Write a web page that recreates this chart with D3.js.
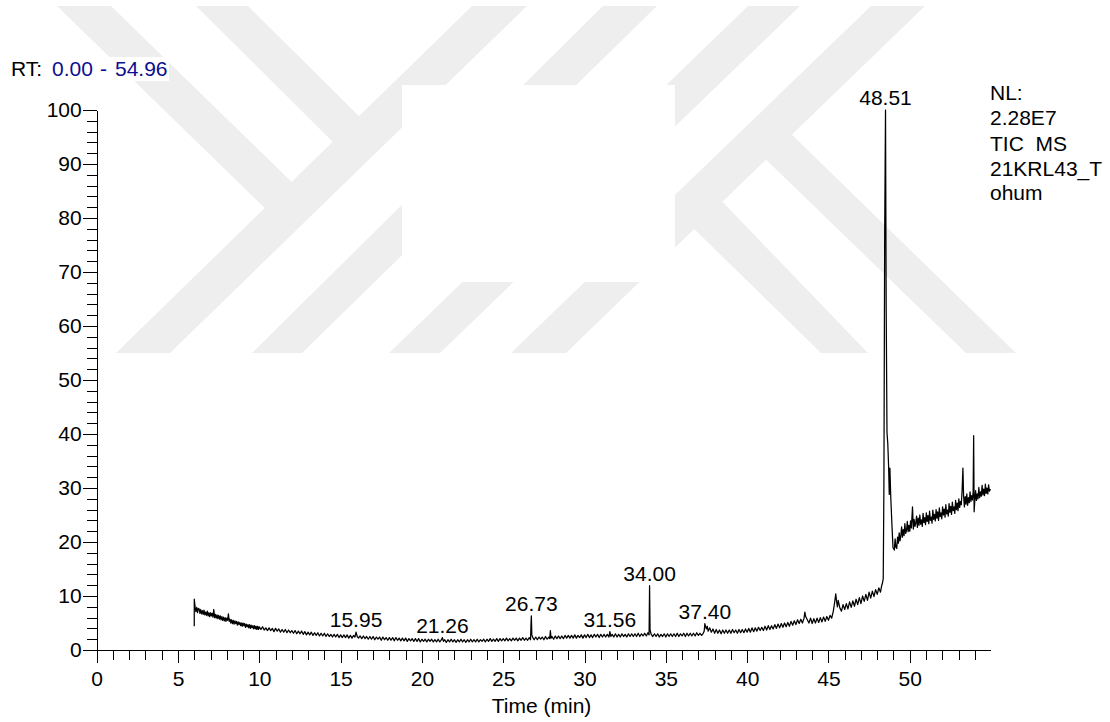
<!DOCTYPE html>
<html>
<head>
<meta charset="utf-8">
<script src="https://cdn.jsdelivr.net/npm/d3@7"></script>
<style>
  html, body { margin: 0; padding: 0; background: #ffffff; }
  svg { display: block; font-family: "Liberation Sans", Arial, sans-serif; }
</style>
</head>
<body>
<svg id="chart" width="1110" height="722"></svg>
<script>
// ---------------- DATA ----------------
// Total ion chromatogram: [retention time (min), relative abundance (%)]
const trace = [
  [6.00,4.4],[6.00,9.4],[6.05,8.0],[6.1,7.1],[6.15,7.9],[6.2,6.9],[6.25,7.7],[6.3,7.6],[6.35,6.8],[6.4,7.5],
  [6.45,6.7],[6.5,7.3],[6.55,6.6],[6.6,7.4],[6.65,6.5],[6.7,7.0],[6.75,6.4],[6.8,7.2],[6.85,6.3],[6.9,6.9],
  [6.95,6.2],[7.0,6.9],[7.05,6.3],[7.1,6.8],[7.15,6.1],[7.2,7.5],[7.25,6.0],[7.3,6.6],[7.35,5.9],[7.4,6.5],
  [7.45,5.8],[7.5,6.4],[7.55,5.7],[7.6,6.3],[7.65,5.6],[7.7,6.2],[7.75,5.5],[7.8,6.1],[7.85,5.4],[7.9,6.0],
  [7.95,5.3],[8.0,5.9],[8.05,5.5],[8.1,6.7],[8.15,5.3],[8.2,5.7],[8.25,5.0],[8.3,5.6],[8.35,4.9],[8.4,5.5],
  [8.45,4.8],[8.5,5.4],[8.55,4.9],[8.6,5.3],[8.65,4.6],[8.7,5.2],[8.75,4.7],[8.8,5.1],[8.85,4.5],[8.9,5.0],
  [8.95,4.4],[9.0,5.0],[9.05,4.5],[9.1,4.9],[9.15,4.2],[9.2,4.8],[9.25,4.3],[9.3,4.7],[9.35,4.1],[9.4,4.7],
  [9.45,4.0],[9.5,4.6],[9.55,4.1],[9.6,4.5],[9.65,3.9],[9.7,4.5],[9.75,3.9],[9.8,4.4],[9.85,3.8],[9.9,4.4],
  [9.95,3.8],[10.0,4.3],[10.1,3.8],[10.2,4.3],[10.3,3.7],[10.4,4.1],[10.5,3.6],[10.6,4.1],[10.7,3.6],[10.8,4.0],
  [10.9,3.4],[11.0,4.0],[11.1,3.5],[11.2,3.9],[11.3,3.3],[11.4,3.8],[11.5,3.3],[11.6,3.8],[11.7,3.2],[11.8,3.7],
  [11.9,3.2],[12.0,3.6],[12.1,3.1],[12.2,3.6],[12.3,3.0],[12.4,3.5],[12.5,3.0],[12.6,3.5],[12.7,2.9],[12.8,3.4],
  [12.9,2.8],[13.0,3.3],[13.1,2.8],[13.2,3.3],[13.3,2.7],[13.4,3.2],[13.5,2.7],[13.6,3.2],[13.7,2.6],[13.8,3.1],
  [13.9,2.6],[14.0,3.1],[14.1,2.5],[14.2,3.0],[14.3,2.5],[14.4,2.9],[14.5,2.4],[14.6,2.9],[14.7,2.4],[14.8,2.9],
  [14.9,2.3],[15.0,2.8],[15.1,2.3],[15.2,2.8],[15.3,2.3],[15.4,2.8],[15.5,2.2],[15.6,2.7],[15.7,2.2],[15.8,2.7],
  [15.88,2.4],[15.95,3.3],[16.02,2.5],[16.1,2.2],[16.2,2.6],[16.3,2.1],[16.4,2.6],[16.5,2.1],[16.6,2.5],[16.7,2.0],
  [16.8,2.5],[16.9,2.0],[17.0,2.5],[17.1,1.9],[17.2,2.4],[17.3,2.0],[17.4,2.4],[17.5,1.8],[17.6,2.4],[17.7,1.9],
  [17.8,2.3],[17.9,1.8],[18.0,2.3],[18.1,1.8],[18.2,2.3],[18.3,1.7],[18.4,2.3],[18.5,1.8],[18.6,2.2],[18.7,1.7],
  [18.8,2.2],[18.9,1.7],[19.0,2.2],[19.1,1.6],[19.2,2.1],[19.3,1.7],[19.4,2.1],[19.5,1.6],[19.6,2.1],[19.7,1.6],
  [19.8,2.1],[19.9,1.5],[20.0,2.0],[20.1,1.6],[20.2,2.0],[20.3,1.5],[20.4,2.0],[20.5,1.6],[20.6,2.0],[20.7,1.5],
  [20.8,1.9],[20.9,1.5],[21.0,2.0],[21.1,1.5],[21.2,1.9],[21.26,2.3],[21.32,1.6],[21.4,1.9],[21.5,1.4],[21.6,1.9],
  [21.7,1.5],[21.8,2.0],[21.9,1.5],[22.0,1.9],[22.1,1.4],[22.2,1.9],[22.3,1.5],[22.4,2.0],[22.5,1.5],[22.6,1.9],
  [22.7,1.4],[22.8,1.9],[22.9,1.5],[23.0,2.0],[23.1,1.5],[23.2,1.9],[23.3,1.5],[23.4,2.0],[23.5,1.5],[23.6,1.9],
  [23.7,1.6],[23.8,2.0],[23.9,1.5],[24.0,2.0],[24.1,1.6],[24.2,2.1],[24.3,1.6],[24.4,2.0],[24.5,1.6],[24.6,2.1],
  [24.7,1.6],[24.8,2.1],[24.9,1.7],[25.0,2.1],[25.1,1.7],[25.2,2.2],[25.3,1.7],[25.4,2.1],[25.5,1.7],[25.6,2.2],
  [25.7,1.8],[25.8,2.2],[25.9,1.7],[26.0,2.2],[26.1,1.8],[26.2,2.3],[26.3,1.8],[26.4,2.2],[26.5,1.8],[26.6,2.3],
  [26.68,1.9],[26.71,5.0],[26.73,6.3],[26.76,2.8],[26.82,2.3],[26.9,1.9],[27.0,2.4],[27.1,1.9],[27.2,2.4],[27.3,2.0],
  [27.4,2.4],[27.5,1.9],[27.6,2.5],[27.7,2.0],[27.8,2.4],[27.86,2.1],[27.9,3.6],[27.94,2.2],[28.0,2.5],[28.1,2.0],
  [28.2,2.6],[28.3,2.1],[28.4,2.6],[28.5,2.1],[28.6,2.6],[28.7,2.1],[28.8,2.7],[28.9,2.2],[29.0,2.7],[29.1,2.2],
  [29.2,2.7],[29.3,2.2],[29.4,2.8],[29.5,2.2],[29.6,2.7],[29.7,2.3],[29.8,2.8],[29.9,2.2],[30.0,2.8],[30.1,2.3],
  [30.2,2.9],[30.3,2.3],[30.4,2.8],[30.5,2.3],[30.6,2.9],[30.7,2.4],[30.8,2.9],[30.9,2.3],[31.0,2.9],[31.1,2.4],
  [31.2,2.9],[31.3,2.4],[31.4,2.9],[31.5,2.4],[31.56,3.4],[31.62,2.5],[31.7,2.9],[31.8,2.4],[31.9,3.0],[32.0,2.4],
  [32.1,2.9],[32.2,2.4],[32.3,3.0],[32.4,2.5],[32.5,2.9],[32.6,2.4],[32.7,3.0],[32.8,2.5],[32.9,3.0],[33.0,2.5],
  [33.1,3.0],[33.2,2.5],[33.3,3.1],[33.4,2.5],[33.5,3.0],[33.6,2.6],[33.7,3.1],[33.8,2.6],[33.9,3.2],[33.97,2.8],
  [34.0,11.9],[34.03,3.7],[34.1,2.9],[34.2,2.5],[34.3,3.0],[34.4,2.5],[34.5,3.0],[34.6,2.4],[34.7,2.9],[34.8,2.5],
  [34.9,3.0],[35.0,2.4],[35.1,3.0],[35.2,2.5],[35.3,3.0],[35.4,2.5],[35.5,3.0],[35.6,2.5],[35.7,3.1],[35.8,2.5],
  [35.9,3.0],[36.0,2.6],[36.1,3.1],[36.2,2.5],[36.3,3.1],[36.4,2.6],[36.5,3.1],[36.6,2.6],[36.7,3.1],[36.8,2.6],
  [36.9,3.2],[37.0,2.7],[37.1,3.1],[37.2,2.7],[37.3,3.1],[37.36,3.5],[37.4,4.9],[37.45,4.3],[37.5,3.9],[37.55,4.4],
  [37.6,3.5],[37.7,4.1],[37.8,3.3],[37.9,3.9],[38.0,3.1],[38.1,3.8],[38.2,3.1],[38.3,3.7],[38.4,3.0],[38.5,3.7],
  [38.6,3.1],[38.7,3.7],[38.8,3.1],[38.9,3.7],[39.0,3.1],[39.1,3.8],[39.2,3.2],[39.3,3.7],[39.4,3.1],[39.5,3.8],
  [39.6,3.2],[39.7,3.8],[39.8,3.2],[39.9,3.9],[40.0,3.3],[40.1,4.0],[40.2,3.3],[40.3,4.1],[40.4,3.4],[40.5,4.1],
  [40.6,3.5],[40.7,4.2],[40.8,3.6],[40.9,4.2],[41.0,3.6],[41.1,4.4],[41.2,3.7],[41.3,4.5],[41.4,3.8],[41.5,4.5],
  [41.6,3.9],[41.7,4.7],[41.8,4.0],[41.9,4.8],[42.0,4.1],[42.1,4.9],[42.2,4.2],[42.3,5.0],[42.4,4.3],[42.5,5.1],
  [42.6,4.4],[42.7,5.3],[42.8,4.6],[42.9,5.4],[43.0,4.7],[43.1,5.6],[43.2,4.9],[43.3,5.7],[43.4,5.0],[43.5,5.9],
  [43.55,7.0],[43.6,6.2],[43.7,5.6],[43.8,5.0],[43.9,5.9],[44.0,4.9],[44.1,5.8],[44.2,5.0],[44.3,5.9],[44.4,5.1],
  [44.5,6.0],[44.6,5.2],[44.7,6.1],[44.8,5.3],[44.9,6.2],[45.0,5.5],[45.1,6.4],[45.2,5.9],[45.3,7.2],[45.38,8.8],
  [45.45,10.4],[45.5,9.0],[45.55,8.0],[45.6,9.2],[45.7,7.8],[45.8,7.2],[45.9,8.4],[46.0,7.5],[46.1,8.6],[46.2,7.6],
  [46.3,8.9],[46.4,7.9],[46.5,9.1],[46.6,8.1],[46.7,9.4],[46.8,8.4],[46.9,9.7],[47.0,8.6],[47.1,10.0],[47.2,9.0],
  [47.3,10.3],[47.4,9.2],[47.5,10.7],[47.6,9.6],[47.7,10.9],[47.8,9.9],[47.9,11.2],[48.0,10.3],[48.1,11.5],[48.2,10.7],
  [48.28,12.0],[48.33,12.5],[48.37,13.2],[48.41,30],[48.46,78],[48.51,100],[48.55,64],[48.6,40.3],[48.65,38.2],[48.7,34.0],
  [48.74,28.8],[48.78,33.7],[48.83,28.5],[48.9,23.5],[48.97,19.0],[49.05,18.5],[49.1,20.6],[49.15,19.0],[49.2,18.8],[49.25,20.9],
  [49.3,19.8],[49.35,21.7],[49.4,20.2],[49.45,21.1],[49.5,22.8],[49.55,20.9],[49.6,22.3],[49.65,21.2],[49.7,23.4],[49.75,21.6],
  [49.8,22.1],[49.85,23.8],[49.9,21.9],[49.95,23.1],[50.0,22.0],[50.05,23.9],[50.1,22.6],[50.17,26.5],[50.22,22.4],[50.27,24.2],
  [50.32,22.9],[50.37,23.5],[50.42,24.8],[50.47,22.7],[50.52,24.4],[50.57,23.1],[50.62,25.0],[50.67,23.3],[50.72,24.1],[50.77,22.9],
  [50.82,25.3],[50.87,23.6],[50.92,24.5],[50.97,23.2],[51.02,25.4],[51.07,23.8],[51.12,24.9],[51.17,23.4],[51.22,25.7],[51.27,24.0],
  [51.32,24.6],[51.37,23.5],[51.42,25.9],[51.47,24.2],[51.52,25.1],[51.57,23.9],[51.62,26.0],[51.67,24.4],[51.72,25.6],[51.77,24.0],
  [51.82,26.3],[51.87,24.7],[51.92,25.4],[51.97,24.3],[52.02,26.5],[52.07,25.0],[52.12,26.1],[52.17,24.6],[52.22,26.9],[52.27,25.2],
  [52.32,25.9],[52.37,24.8],[52.42,27.1],[52.47,25.5],[52.52,26.6],[52.57,25.1],[52.62,27.4],[52.67,25.8],[52.72,26.5],[52.77,25.3],
  [52.82,27.7],[52.87,26.0],[52.92,27.2],[52.97,25.8],[53.02,28.0],[53.07,26.4],[53.12,27.5],[53.17,26.9],[53.22,29.6],[53.27,33.7],
  [53.31,28.6],[53.36,26.5],[53.41,28.4],[53.46,27.0],[53.51,28.9],[53.56,26.8],[53.61,28.2],[53.66,27.3],[53.71,29.3],[53.76,27.5],
  [53.81,28.6],[53.86,27.8],[53.9,29.4],[53.93,39.7],[53.96,25.6],[54.0,27.6],[54.05,29.5],[54.1,27.7],[54.15,28.9],[54.2,28.0],
  [54.25,30.1],[54.3,28.2],[54.35,29.3],[54.4,28.5],[54.45,30.5],[54.5,28.7],[54.55,29.8],[54.6,28.6],[54.65,30.7],[54.7,29.0],
  [54.75,30.0],[54.8,28.9],[54.85,30.6],[54.9,29.4],[54.96,29.8]
];

// Labelled peak retention times
const peakLabels = [15.95, 21.26, 26.73, 31.56, 34.00, 37.40, 48.51];

// Axis ranges and ticks
const rtRange = [0.00, 54.96];
const xMajorTicks = [0, 5, 10, 15, 20, 25, 30, 35, 40, 45, 50];
const xMinorTicks = [0,1,2,3,4,5,6,7,8,9,10,11,12,13,14,15,16,17,18,19,20,21,22,23,24,25,26,27,
                     28,29,30,31,32,33,34,35,36,37,38,39,40,41,42,43,44,45,46,47,48,49,50,51,52,53,54];
const yMajorTicks = [0, 10, 20, 30, 40, 50, 60, 70, 80, 90, 100];
const yMinorTicks = [0,2,4,6,8,10,12,14,16,18,20,22,24,26,28,30,32,34,36,38,40,42,44,46,48,50,
                     52,54,56,58,60,62,64,66,68,70,72,74,76,78,80,82,84,86,88,90,92,94,96,98,100];

// Header / info texts
const rtLabel = "RT:";
const rtValueParts = ["0.00", "-", "54.96"];
const infoLines = ["NL:", "2.28E7", "TIC  MS", "21KRL43_T", "ohum"];
const xTitle = "Time (min)";

// ---------------- DRAWING ----------------
const svg = d3.select("#chart");
const FONT = 21;

// Background watermark (decorative)
const wm = svg.append("g").attr("fill", "#eeeeee");
const bands = [
  [[472,6],[527,6],[170,353],[116,353]],
  [[603,6],[657,6],[302,353],[252,353]],
  [[748,6],[800,6],[440,353],[389,353]],
  [[871,6],[925,6],[566,353],[511,353]],
  [[57,6],[111,6],[300,190],[272,215]],
  [[196,6],[248,6],[368,125],[341,150]],
  [[783,126],[1016,353],[966,353],[757,151]],
  [[713,192],[868,353],[821,353],[685,220]]
];
wm.selectAll("polygon").data(bands).join("polygon")
  .attr("points", d => d.map(p => p.join(",")).join(" "));
svg.append("rect").attr("x", 402).attr("y", 85).attr("width", 273).attr("height", 197).attr("fill", "#ffffff");

// Scales
const x = d3.scaleLinear().domain(rtRange).range([96.7, 990.4]);
const y = d3.scaleLinear().domain([0, 100]).range([650, 110]);

// Axes
const axX = svg.append("g").attr("transform", `translate(0,${y(0)})`);
axX.append("g").call(d3.axisBottom(x).tickValues(xMinorTicks).tickSize(10).tickSizeOuter(0).tickFormat(""));
axX.append("g").call(d3.axisBottom(x).tickValues(xMajorTicks).tickSize(13).tickSizeOuter(0).tickPadding(8).tickFormat(d3.format("d")));

const axY = svg.append("g").attr("transform", `translate(${x(0)},0)`);
axY.append("g").call(d3.axisLeft(y).tickValues(yMinorTicks).tickSize(10).tickSizeOuter(0).tickFormat(""));
axY.append("g").call(d3.axisLeft(y).tickValues(yMajorTicks).tickSize(14).tickSizeOuter(0).tickPadding(1).tickFormat(d3.format("d")));

svg.selectAll(".domain, .tick line").attr("stroke", "#000").attr("stroke-width", 1).attr("shape-rendering", "crispEdges");
svg.selectAll(".tick text").attr("font-size", FONT).attr("font-family", '"Liberation Sans", Arial, sans-serif').attr("fill", "#000");

// Trace
svg.append("path")
  .datum(trace)
  .attr("fill", "none")
  .attr("stroke", "#000")
  .attr("stroke-width", 1.25)
  .attr("stroke-linejoin", "round")
  .attr("d", d3.line().x(d => x(d[0])).y(d => y(d[1])));

// Peak labels
const peakData = peakLabels.map(t => {
  const near = trace.filter(d => Math.abs(d[0] - t) <= 0.03);
  const v = d3.max(near, d => d[1]);
  return { t, v };
});
svg.append("g").selectAll("text").data(peakData).join("text")
  .attr("x", d => x(d.t))
  .attr("y", d => y(d.v) - 5)
  .attr("text-anchor", "middle")
  .attr("font-size", FONT)
  .attr("fill", "#000")
  .text(d => d.t.toFixed(2));

// Header RT text
svg.append("rect").attr("x", 6).attr("y", 57).attr("width", 163).attr("height", 24).attr("fill", "#ffffff");
const rt = svg.append("text").attr("y", 76).attr("font-size", FONT);
rt.append("tspan").attr("x", 11).attr("fill", "#000").text(rtLabel);
const rtX = [52, 100, 115];
rtValueParts.forEach((p, i) => rt.append("tspan").attr("x", rtX[i]).attr("fill", "#0d0d8f").text(p));

// Info block on the right
const infoY = [100, 124.5, 151, 176, 200];
svg.append("g").selectAll("text").data(infoLines).join("text")
  .attr("x", 990)
  .attr("y", (d, i) => infoY[i])
  .attr("font-size", FONT)
  .attr("fill", "#000")
  .style("white-space", "pre")
  .text(d => d);

// X axis title
svg.append("text")
  .attr("x", (x(0) + x(rtRange[1])) / 2 - 2)
  .attr("y", 713)
  .attr("text-anchor", "middle")
  .attr("font-size", FONT)
  .attr("fill", "#000")
  .text(xTitle);
</script>
</body>
</html>
